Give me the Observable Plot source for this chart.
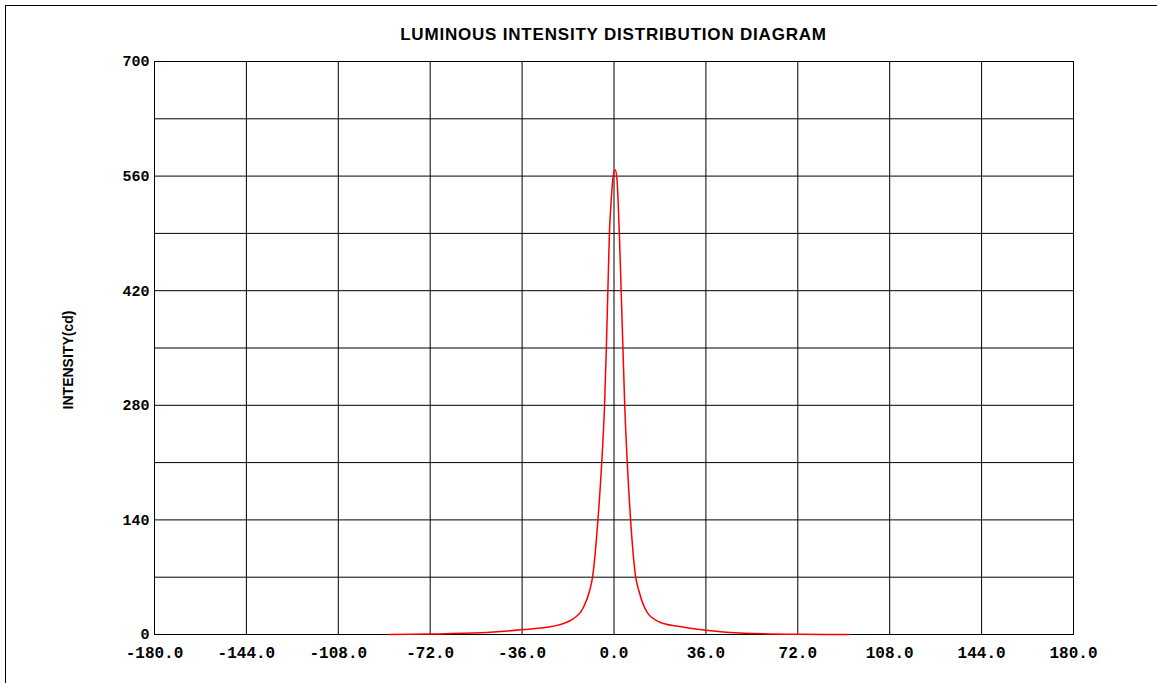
<!DOCTYPE html>
<html>
<head>
<meta charset="utf-8">
<script src="https://cdn.jsdelivr.net/npm/d3@7"></script>
<script src="https://cdn.jsdelivr.net/npm/@observablehq/plot@0.6"></script>
<style>
  html, body { margin: 0; padding: 0; background: #fff; overflow: hidden; }
  #wrap { position: relative; width: 1157px; height: 683px; overflow: hidden; background: #fff; }
  #border { position: absolute; left: 5px; top: 5px; width: 1200px; height: 800px; border: 1px solid #000; box-sizing: border-box; }
  #title { position: absolute; left: 154px; width: 919px; top: 25px; text-align: center;
           font-family: "Liberation Sans", Arial, sans-serif; font-weight: bold; font-size: 17px;
           letter-spacing: 0.8px; color: #000; }
  #chart { position: absolute; left: 0; top: 0; }
</style>
</head>
<body>
<div id="wrap">
  <div id="border"></div>
  <div id="chart"></div>
  <div id="title">LUMINOUS INTENSITY DISTRIBUTION DIAGRAM</div>
</div>
<script>
// Angle (degrees) and luminous intensity (cd)
const angles    = [-88, -72, -52, -36, -24, -16, -12, -9.5, -8.4, -6.3, -4.8, -3.7, -3.0, -2.4, -1.8, -1.1, -0.5, 0.4, 1.2, 1.6, 2.1, 2.8, 3.5, 4.2, 5.2, 6.5, 8.5, 9.7, 13, 18, 25, 36, 51, 72, 92];
const intensity = [0,   0.5,  2,   6,   10,  19,  33,  54,   70,  140,  210,  280,  350,  420,  490,  530,  555,  568, 555, 530, 490, 420, 350, 280, 210, 140, 70,  54,  27, 15, 10, 5.3, 1.6, 0.3, 0];

const xTicks = [-180, -144, -108, -72, -36, 0, 36, 72, 108, 144, 180];
const yTicks = [0, 140, 280, 420, 560, 700];
const yGrid  = [0, 70, 140, 210, 280, 350, 420, 490, 560, 630, 700];
const yLabel = ["INTENSITY(cd)"];

const data = angles.map((a, i) => ({angle: a, value: intensity[i]}));

const monoFont = "'Liberation Mono', 'Courier New', monospace";
const sansFont = "'Liberation Sans', Arial, sans-serif";

const chart = Plot.plot({
  width: 1157,
  height: 683,
  marginLeft: 154,
  marginRight: 84,
  marginTop: 61,
  marginBottom: 49,
  style: {background: "transparent"},
  x: {domain: [-180, 180]},
  y: {domain: [0, 700]},
  marks: [
    Plot.gridX(xTicks, {stroke: "#000", strokeOpacity: 1, strokeWidth: 1}),
    Plot.gridY(yGrid, {stroke: "#000", strokeOpacity: 1, strokeWidth: 1}),
    Plot.frame({stroke: "#000", strokeWidth: 1}),
    Plot.axisX(xTicks, {
      tickSize: 0, tickPadding: 12, label: null,
      tickFormat: d => d.toFixed(1),
      fontFamily: monoFont, fontSize: 16, fontWeight: "bold", fill: "#000"
    }),
    Plot.axisY(yTicks, {
      tickSize: 0, tickPadding: 5, label: null,
      tickFormat: d => String(d),
      fontFamily: monoFont, fontSize: 15, fontWeight: "bold", fill: "#000"
    }),
    Plot.text(yLabel, {
      text: d => d, frameAnchor: "left", textAnchor: "middle", dx: -86, dy: 12, rotate: -90,
      fontFamily: sansFont, fontSize: 14, fontWeight: "bold", fill: "#000"
    }),
    Plot.line(data, {x: "angle", y: "value", stroke: "#ff0000", strokeWidth: 1.5, curve: "monotone-x"})
  ]
});
document.getElementById("chart").appendChild(chart);
</script>
</body>
</html>
